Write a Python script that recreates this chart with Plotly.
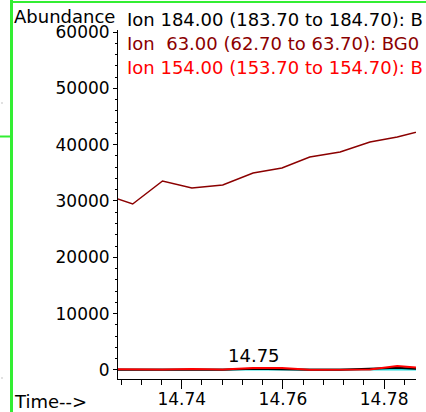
import plotly.graph_objects as go

# Extracted ion chromatogram data (retention time in minutes)
scan_time = [14.7246, 14.7303, 14.7362, 14.7420, 14.7481, 14.7541,
             14.7598, 14.7653, 14.7713, 14.7772, 14.7826, 14.7884]
ion_63 = [31200, 29470, 33550, 32310, 32840, 34970,
          35860, 37810, 38700, 40480, 41360, 42700]
ion_154 = [150, 100, 100, 180, 100, 350, 350, 50, 50, 100, 700, 300]
ion_184 = [50, 50, 50, 100, 50, 200, 100, 50, 50, 200, 400, 100]
ion_other = [100, 100, 100, 0, 0, 0, 0, 0, 50, 50, 100, 100]

legend_labels = ["Ion 184.00 (183.70 to 184.70): B",
                 "Ion  63.00 (62.70 to 63.70): BG0",
                 "Ion 154.00 (153.70 to 154.70): B"]
legend_colors = ["#000000", "#8b0000", "#ff0000"]

x_ticks = [14.74, 14.76, 14.78]
x_ticktext = ["14.74", "14.76", "14.78"]
y_ticks = [0, 10000, 20000, 30000, 40000, 50000, 60000]
y_ticktext = ["0", "10000", "20000", "30000", "40000", "50000", "60000"]

peak_time = 14.7543
peak_label = "14.75"

W, H = 426, 412
L, R, T, B = 118, 10, 30, 33
pw, ph = W - L - R, H - T - B
FONT = "DejaVu Sans"


def px(xp):
    return (xp - L) / pw


def py(yp):
    return (H - B - yp) / ph


fig = go.Figure()
fig.add_trace(go.Scatter(x=scan_time, y=ion_other, mode="lines",
                         line=dict(color="#22dddd", width=2), showlegend=False))
fig.add_trace(go.Scatter(x=scan_time, y=ion_184, mode="lines",
                         line=dict(color=legend_colors[0], width=2), showlegend=False))
fig.add_trace(go.Scatter(x=scan_time, y=ion_63, mode="lines",
                         line=dict(color=legend_colors[1], width=1.5), showlegend=False))
fig.add_trace(go.Scatter(x=scan_time, y=ion_154, mode="lines",
                         line=dict(color=legend_colors[2], width=2), showlegend=False))

annotations = []
for i, (lab, col) in enumerate(zip(legend_labels, legend_colors)):
    annotations.append(dict(text=lab, xref="paper", yref="paper",
                            x=px(125), y=py(19 + 24 * i), xanchor="left", yanchor="middle",
                            showarrow=False, font=dict(family=FONT, size=18, color=col)))
annotations.append(dict(text="Abundance", xref="paper", yref="paper",
                        x=px(12), y=py(16), xanchor="left", yanchor="middle",
                        showarrow=False, font=dict(family=FONT, size=18, color="black")))
annotations.append(dict(text="Time-->", xref="paper", yref="paper",
                        x=px(12), y=py(401), xanchor="left", yanchor="middle",
                        showarrow=False, font=dict(family=FONT, size=18, color="black")))
annotations.append(dict(text=peak_label, x=peak_time, y=0, xref="x", yref="y",
                        xanchor="center", yanchor="bottom", yshift=2,
                        showarrow=False, font=dict(family=FONT, size=18, color="black")))

green = "#33ee33"
shapes = [
    dict(type="line", xref="paper", yref="paper", x0=px(11.5), x1=px(11.5),
         y0=py(H), y1=py(0), line=dict(color=green, width=3)),
    dict(type="line", xref="paper", yref="paper", x0=px(10), x1=px(W),
         y0=py(2), y1=py(2), line=dict(color=green, width=2)),
    dict(type="line", xref="paper", yref="paper", x0=px(0), x1=px(11),
         y0=py(136.5), y1=py(136.5), line=dict(color=green, width=2)),
    dict(type="rect", xref="paper", yref="paper", x0=px(1.5), x1=px(2.5),
         y0=py(103.5), y1=py(102.5), line=dict(width=0), fillcolor="#888888"),
    dict(type="rect", xref="paper", yref="paper", x0=px(1.5), x1=px(2.5),
         y0=py(378.5), y1=py(377.5), line=dict(width=0), fillcolor="#888888"),
]

fig.update_layout(
    width=W, height=H,
    margin=dict(l=L, r=R, t=T, b=B, pad=0, autoexpand=False),
    paper_bgcolor="white", plot_bgcolor="white",
    font=dict(family=FONT, size=18, color="black"),
    annotations=annotations, shapes=shapes,
    xaxis=dict(range=[14.7274, 14.7863], tickvals=x_ticks, ticktext=x_ticktext,
               automargin=False, ticklabelstandoff=-4,
               ticks="outside", ticklen=9, tickwidth=1, tickcolor="black",
               minor=dict(tick0=14.74, dtick=0.004, ticks="outside", ticklen=5,
                          tickwidth=1, tickcolor="black"),
               showline=True, linecolor="black", linewidth=1,
               showgrid=False, zeroline=False,
               tickfont=dict(family=FONT, size=17, color="black")),
    yaxis=dict(range=[-1600, 60355], tickvals=y_ticks, ticktext=y_ticktext,
               automargin=False,
               ticks="outside", ticklen=4, tickwidth=1, tickcolor="black",
               minor=dict(tick0=0, dtick=2000, ticks="outside", ticklen=2,
                          tickwidth=1, tickcolor="black"),
               showline=True, linecolor="black", linewidth=1,
               showgrid=False, zeroline=False,
               tickfont=dict(family=FONT, size=17, color="black")),
)

fig.write_html("out.html")
